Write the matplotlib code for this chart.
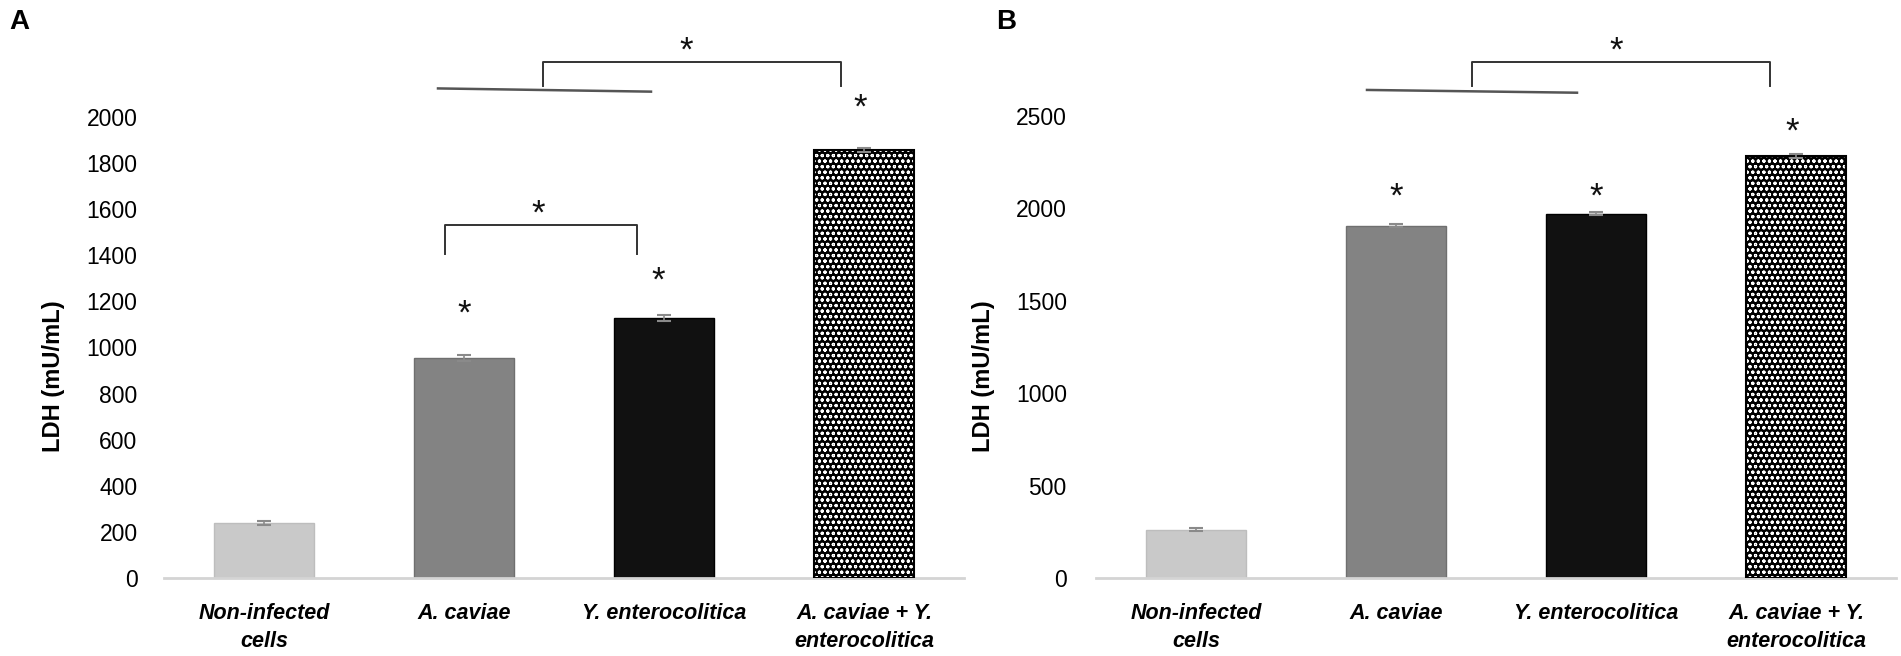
import matplotlib
matplotlib.use("Agg")
import matplotlib.pyplot as plt

# data
groups = ["Non-infected\ncells", "A. caviae", "Y. enterocolitica", "A. caviae + Y.\nenterocolitica"]
ldh_a = [240, 954, 1128, 1857]
err_a = [8, 12, 12, 10]
ldh_b = [262, 1907, 1972, 2283]
err_b = [8, 10, 10, 12]

ticks_a = list(range(0, 2001, 200))
ticks_b = list(range(0, 2501, 500))

# significance marks: (x, y) in data units
stars_a = [(1.0, 1145), (1.97, 1288), (2.98, 2040), (1.37, 1580), (2.11, 2286)]
stars_b = [(1.0, 2060), (2.0, 2060), (2.98, 2415), (2.10, 2852)]

bar_colors = ["#c9c9c9", "#838383", "#111111", "#000000"]
edge_colors = ["#bdbdbd", "#6f6f6f", "#000000", "#000000"]

tick_font = ["Liberation Sans Narrow", "Liberation Sans", "DejaVu Sans"]
plt.rcParams["hatch.linewidth"] = 0.8

fig = plt.figure(figsize=(19.01, 6.56), dpi=100)


def panel(left, ymax, vals, errs, ticks, stars, ypad, letter, letter_x):
    ax = fig.add_axes([left, 1 - 578 / 656, 800 / 1901, 578 / 656])
    x = list(range(len(vals)))
    for i in x:
        if i == 3:
            ax.bar(i, vals[i], width=0.5, color="black", edgecolor="white",
                   hatch="ooo", linewidth=0, zorder=2)
            ax.bar(i, vals[i], width=0.5, fill=False, edgecolor="black",
                   linewidth=1.5, zorder=3)
        else:
            ax.bar(i, vals[i], width=0.5, color=bar_colors[i],
                   edgecolor=edge_colors[i], linewidth=1, zorder=2)
    ax.errorbar(x, vals, yerr=errs, fmt="none", ecolor="#8a8a8a",
                elinewidth=1.2, capsize=5, capthick=1.5, zorder=4)

    ax.set_xlim(-0.5, 3.5)
    ax.set_ylim(0, ymax)
    ax.set_yticks(ticks)
    ax.set_yticklabels([str(t) for t in ticks], family=tick_font, fontsize=16.5)
    ax.set_xticks(x)
    ax.set_xticklabels(groups, family=tick_font, fontsize=15.5,
                       fontweight="bold", fontstyle="italic", linespacing=1.45)
    ax.tick_params(axis="y", length=0, pad=ypad)
    ax.tick_params(axis="x", length=0, pad=18)
    for s in ["top", "right", "left"]:
        ax.spines[s].set_visible(False)
    ax.spines["bottom"].set_color("#d4d4d4")
    ax.spines["bottom"].set_linewidth(2)

    ax.set_ylabel("LDH (mU/mL)", fontsize=17, fontweight="bold",
                  family=["Liberation Sans", "DejaVu Sans"])
    ax.yaxis.set_label_coords(-(ypad + 80) / 800, (578 - 376) / 578)

    for sx, sy in stars:
        ax.text(sx, sy, "*", ha="center", va="center", fontsize=25,
                family=["Liberation Sans", "DejaVu Sans"], color="#111111")

    fig.text(letter_x, 1 - 22 / 656, letter, fontsize=20, fontweight="bold",
             family=["Liberation Sans", "DejaVu Sans"], va="center")
    return ax


ax_a = panel(164 / 1901, 578 / 0.2305, ldh_a, err_a, ticks_a, stars_a, 19, "A", 9 / 1901)
ax_b = panel(1096 / 1901, 578 / 0.1848, ldh_b, err_b, ticks_b, stars_b, 21, "B", 996 / 1901)

# panel A brackets
ax_a.plot([0.87, 1.935], [2124, 2110], color="#555555", lw=1.8)
ax_a.plot([1.395, 1.395, 2.885, 2.885], [2134, 2239, 2239, 2134], color="#333333", lw=1.4)
ax_a.plot([0.905, 0.905, 1.865, 1.865], [1406, 1531, 1531, 1406], color="#333333", lw=1.4)

# panel B brackets
ax_b.plot([0.855, 1.905], [2641, 2626], color="#555555", lw=1.8)
ax_b.plot([1.38, 1.38, 2.87, 2.87], [2662, 2792, 2792, 2662], color="#333333", lw=1.4)

fig.savefig("out.png", dpi=100)
